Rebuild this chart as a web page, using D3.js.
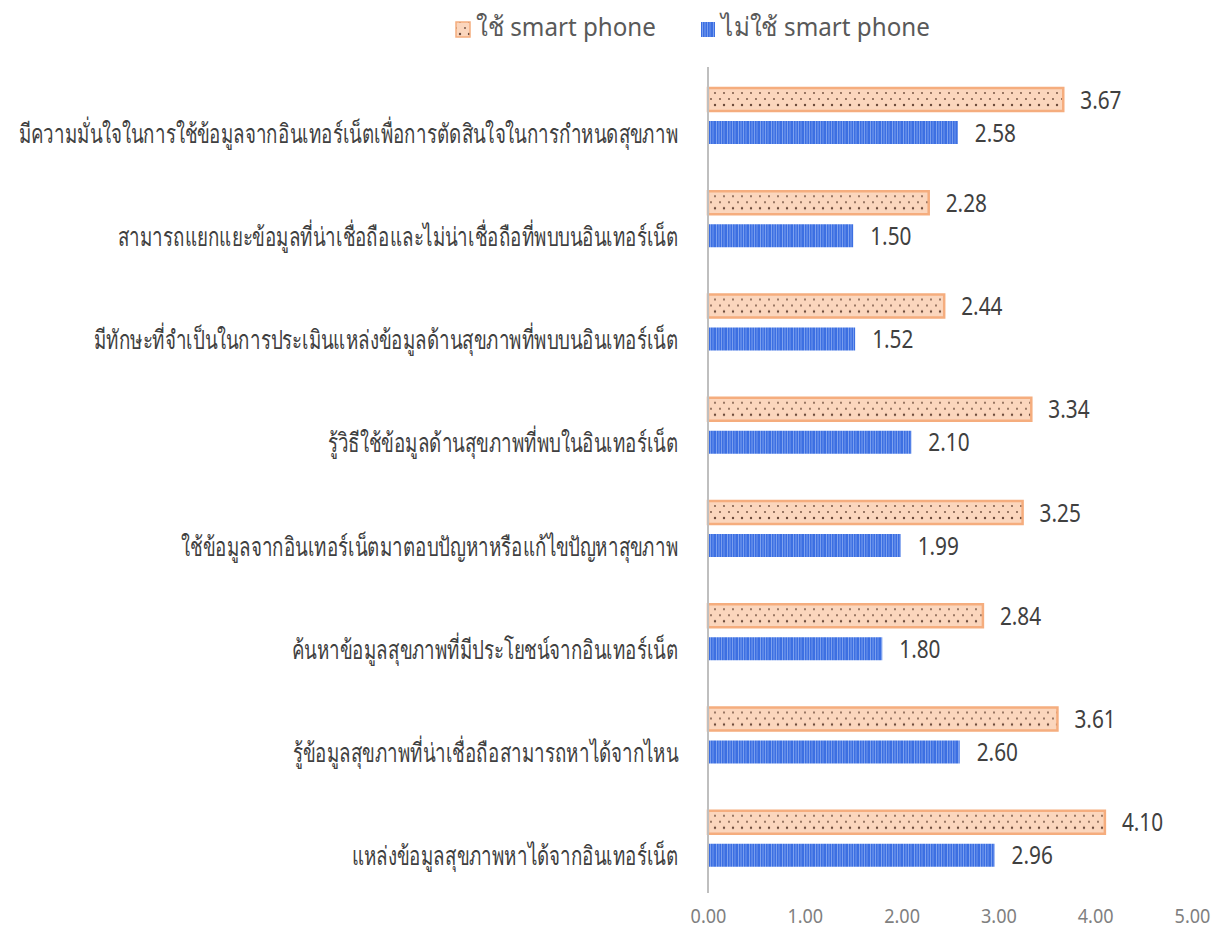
<!DOCTYPE html>
<html>
<head>
<meta charset="utf-8">
<script src="https://cdn.jsdelivr.net/npm/d3@7"></script>
<style>
  html, body { margin: 0; padding: 0; background: #fff; }
  svg { display: block; }
</style>
</head>
<body>
<svg id="chart" width="1219" height="932"></svg>
<script>
// Survey items (top to bottom) and mean scores for each group
const categories = [
  "มีความมั่นใจในการใช้ข้อมูลจากอินเทอร์เน็ตเพื่อการตัดสินใจในการกำหนดสุขภาพ",
  "สามารถแยกแยะข้อมูลที่น่าเชื่อถือและไม่น่าเชื่อถือที่พบบนอินเทอร์เน็ต",
  "มีทักษะที่จำเป็นในการประเมินแหล่งข้อมูลด้านสุขภาพที่พบบนอินเทอร์เน็ต",
  "รู้วิธีใช้ข้อมูลด้านสุขภาพที่พบในอินเทอร์เน็ต",
  "ใช้ข้อมูลจากอินเทอร์เน็ตมาตอบปัญหาหรือแก้ไขปัญหาสุขภาพ",
  "ค้นหาข้อมูลสุขภาพที่มีประโยชน์จากอินเทอร์เน็ต",
  "รู้ข้อมูลสุขภาพที่น่าเชื่อถือสามารถหาได้จากไหน",
  "แหล่งข้อมูลสุขภาพหาได้จากอินเทอร์เน็ต"
];
const seriesNames = ["ใช้ smart phone", "ไม่ใช้ smart phone"];
const useSmartphone = [3.67, 2.28, 2.44, 3.34, 3.25, 2.84, 3.61, 4.10];
const noSmartphone  = [2.58, 1.50, 1.52, 2.10, 1.99, 1.80, 2.60, 2.96];
const xTicks = [0, 1, 2, 3, 4, 5];

const svg = d3.select("#chart");
const FONT = "'Noto Sans', 'DejaVu Sans', sans-serif";

// Fill patterns: dotted peach and striped blue
const defs = svg.append("defs");
const dots = defs.append("pattern")
  .attr("id", "pDots").attr("patternUnits", "userSpaceOnUse")
  .attr("width", 18).attr("height", 23);
dots.append("rect").attr("width", 18).attr("height", 23).attr("fill", "#fbd6bd");
[[4, 5, 0.9], [13, 5, 0.9], [9, 11, 0.9], [0, 11, 0.9], [18, 11, 0.9], [4, 17, 1.2], [13, 17, 1.2]]
  .forEach(([cx, cy, r]) => dots.append("circle")
    .attr("cx", cx).attr("cy", cy).attr("r", r).attr("fill", "#6b4a3a"));

const stripes = defs.append("pattern")
  .attr("id", "pStripes").attr("patternUnits", "userSpaceOnUse")
  .attr("width", 11).attr("height", 30);
stripes.append("rect").attr("width", 11).attr("height", 30).attr("fill", "#3c6fe2");
[[1, 0.8, 0.55], [3.5, 1, 0.4], [6, 0.7, 0.6], [8.5, 1, 0.35]]
  .forEach(([x, w, o]) => stripes.append("rect")
    .attr("x", x).attr("y", 0).attr("width", w).attr("height", 30)
    .attr("fill", "#cfe0ff").attr("opacity", o));

// Scales
const x = d3.scaleLinear().domain([0, 5]).range([708, 1192]);
const y0 = d3.scaleBand().domain(d3.range(categories.length)).range([67, 893]).paddingInner(0).paddingOuter(0);
const barH = 23, gap = 10;

// Bars
const g = svg.append("g");
const groups = g.selectAll("g.cat").data(categories).enter().append("g")
  .attr("class", "cat")
  .attr("transform", (d, i) => `translate(0,${y0(i) + 21})`);

groups.append("rect")
  .attr("x", x(0)).attr("y", 0)
  .attr("width", (d, i) => x(useSmartphone[i]) - x(0)).attr("height", barH)
  .attr("fill", "url(#pDots)")
  .attr("stroke", "#f5ad7e").attr("stroke-width", 2.5);

groups.append("rect")
  .attr("x", x(0)).attr("y", barH + gap)
  .attr("width", (d, i) => x(noSmartphone[i]) - x(0)).attr("height", barH)
  .attr("fill", "url(#pStripes)");

// Value labels (condensed)
groups.append("text")
  .attr("transform", (d, i) => `translate(${x(useSmartphone[i]) + 17},${barH / 2 + 9}) scale(0.8,1)`)
  .attr("font-family", FONT).attr("font-size", 26).attr("fill", "#404040")
  .text((d, i) => useSmartphone[i].toFixed(2));
groups.append("text")
  .attr("transform", (d, i) => `translate(${x(noSmartphone[i]) + 17},${barH + gap + barH / 2 + 9}) scale(0.8,1)`)
  .attr("font-family", FONT).attr("font-size", 26).attr("fill", "#404040")
  .text((d, i) => noSmartphone[i].toFixed(2));

// Category labels, horizontally condensed
groups.append("text")
  .attr("font-family", FONT).attr("font-size", 26).attr("fill", "#404040")
  .attr("text-anchor", "end")
  .attr("transform", `translate(678,${barH + gap + barH / 2 + 10}) scale(0.72,1)`)
  .text(d => d);

// Axis line
g.append("line")
  .attr("x1", x(0)).attr("x2", x(0)).attr("y1", 67).attr("y2", 893)
  .attr("stroke", "#bfbfbf").attr("stroke-width", 2);

// Tick labels
const axis = d3.axisBottom(x).tickValues(xTicks).tickFormat(d3.format(".2f")).tickSize(0).tickPadding(0);
const ax = svg.append("g").attr("transform", "translate(0,906)").call(axis);
ax.select(".domain").remove();
ax.selectAll("text").attr("font-family", FONT).attr("font-size", 19).attr("fill", "#7f7f7f").attr("dy", "0.9em")
  .attr("transform", "scale(0.95,1)");

// Legend
const legend = svg.append("g").attr("transform", "translate(456,17)");
const items = [
  { name: seriesNames[0], fill: "url(#pDots)", stroke: "#f5ad7e", x: 0 },
  { name: seriesNames[1], fill: "url(#pStripes)", stroke: "none", x: 245 }
];
const li = legend.selectAll("g").data(items).enter().append("g")
  .attr("transform", d => `translate(${d.x},0)`);
li.append("rect").attr("y", 5).attr("width", 14).attr("height", 15)
  .attr("fill", d => d.fill).attr("stroke", d => d.stroke).attr("stroke-width", 1.5);
li.append("text").attr("transform", "translate(20,19) scale(0.93,1)")
  .attr("font-family", FONT).attr("font-size", 26).attr("fill", "#595959")
  .text(d => d.name);
</script>
</body>
</html>
